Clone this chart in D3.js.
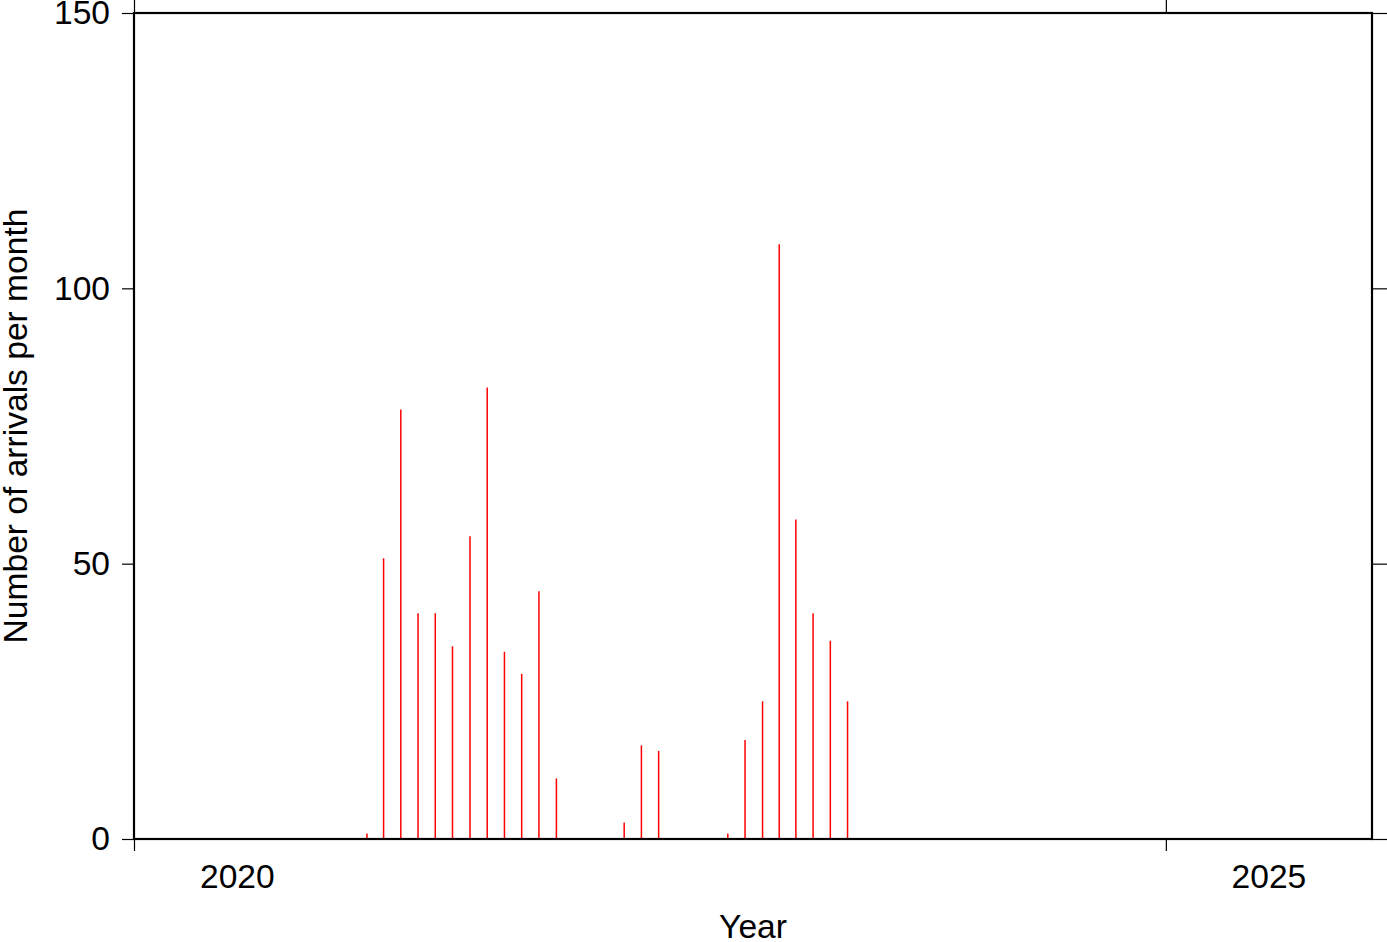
<!DOCTYPE html>
<html>
<head>
<meta charset="utf-8">
<script src="https://cdn.jsdelivr.net/npm/d3@7"></script>
<style>
html,body{margin:0;padding:0;background:#fff;}
svg{display:block;font-family:"Liberation Sans",Arial,Helvetica,sans-serif;}
</style>
</head>
<body>
<svg id="chart" width="1387" height="942"></svg>
<script>
// Data: monthly arrival counts
const months = ["2021-02","2021-03","2021-04","2021-05","2021-06","2021-07","2021-08","2021-09","2021-10","2021-11","2021-12","2022-01",
                "2022-05","2022-06","2022-07",
                "2022-11","2022-12","2023-01","2023-02","2023-03","2023-04","2023-05","2023-06"];
const counts = [1,51,78,41,41,35,55,82,34,30,45,11,
                3,17,16,
                1,18,25,108,58,41,36,25];
const yTicks = [0,50,100,150];
const xTickYears = [2020,2025];
const xLabelYears = [2020,2025];

(function(){
const svg = d3.select("#chart");
const L=134, R=1372, T=13, B=839;
const x = d3.scaleTime().domain([new Date(2020,0,1), new Date(2026,0,1)]).range([L,R]);
const y = d3.scaleLinear().domain([0,150]).range([B,T]);

function mid(s){
  const [yy,mm]=s.split("-").map(Number);
  const a=new Date(yy,mm-1,1), b=new Date(yy,mm,1);
  return new Date((a.getTime()+b.getTime())/2);
}

// bars
svg.append("g").selectAll("line").data(months.map((m,i)=>({m,v:counts[i]})))
  .join("line")
  .attr("x1",d=>x(mid(d.m))+0.8).attr("x2",d=>x(mid(d.m))+0.8)
  .attr("y1",y(0)).attr("y2",d=>y(d.v))
  .attr("stroke","#ff0000").attr("stroke-width",1.5);

// axes
const tickLen=12;
const fs=33.6;
const axLeft = d3.axisLeft(y).tickValues(yTicks).tickSize(tickLen).tickPadding(12);
const axRight = d3.axisRight(y).tickValues(yTicks).tickSize(tickLen+3).tickFormat("");
const axBottom = d3.axisBottom(x).tickValues(xTickYears.map(v=>new Date(v,0,1))).tickSize(tickLen).tickFormat("");
const axTop = d3.axisTop(x).tickValues(xTickYears.map(v=>new Date(v,0,1))).tickSize(tickLen+1).tickFormat("");

function style(g){
  g.select(".domain").remove();
  g.selectAll(".tick line").attr("stroke","#000").attr("stroke-width",1.2);
  g.selectAll("text").attr("fill","#000").attr("font-size",fs).attr("font-family","Liberation Sans, Arial, sans-serif");
}
svg.append("g").attr("transform",`translate(${L},0)`).call(axLeft).call(style);
svg.append("g").attr("transform",`translate(${R},0)`).call(axRight).call(style);
svg.append("g").attr("transform",`translate(0,${B})`).call(axBottom).call(style);
svg.append("g").attr("transform",`translate(0,${T})`).call(axTop).call(style);

// year labels centred in the year interval
svg.append("g").selectAll("text").data(xLabelYears).join("text")
  .attr("x",d=>(x(new Date(d,0,1))+x(new Date(d+1,0,1)))/2)
  .attr("y",888)
  .attr("text-anchor","middle").attr("font-size",fs).attr("fill","#000")
  .text(d=>d);

// frame
svg.append("rect").attr("x",L).attr("y",T).attr("width",R-L).attr("height",B-T)
  .attr("fill","none").attr("stroke","#000").attr("stroke-width",2.2);

// axis titles
svg.append("text").attr("x",(L+R)/2).attr("y",938).attr("text-anchor","middle")
  .attr("font-size",fs).attr("fill","#000").text("Year");
svg.append("text").attr("transform",`translate(27,${(T+B)/2}) rotate(-90)`).attr("text-anchor","middle")
  .attr("font-size",fs).attr("fill","#000").text("Number of arrivals per month");
})();
</script>
</body>
</html>
